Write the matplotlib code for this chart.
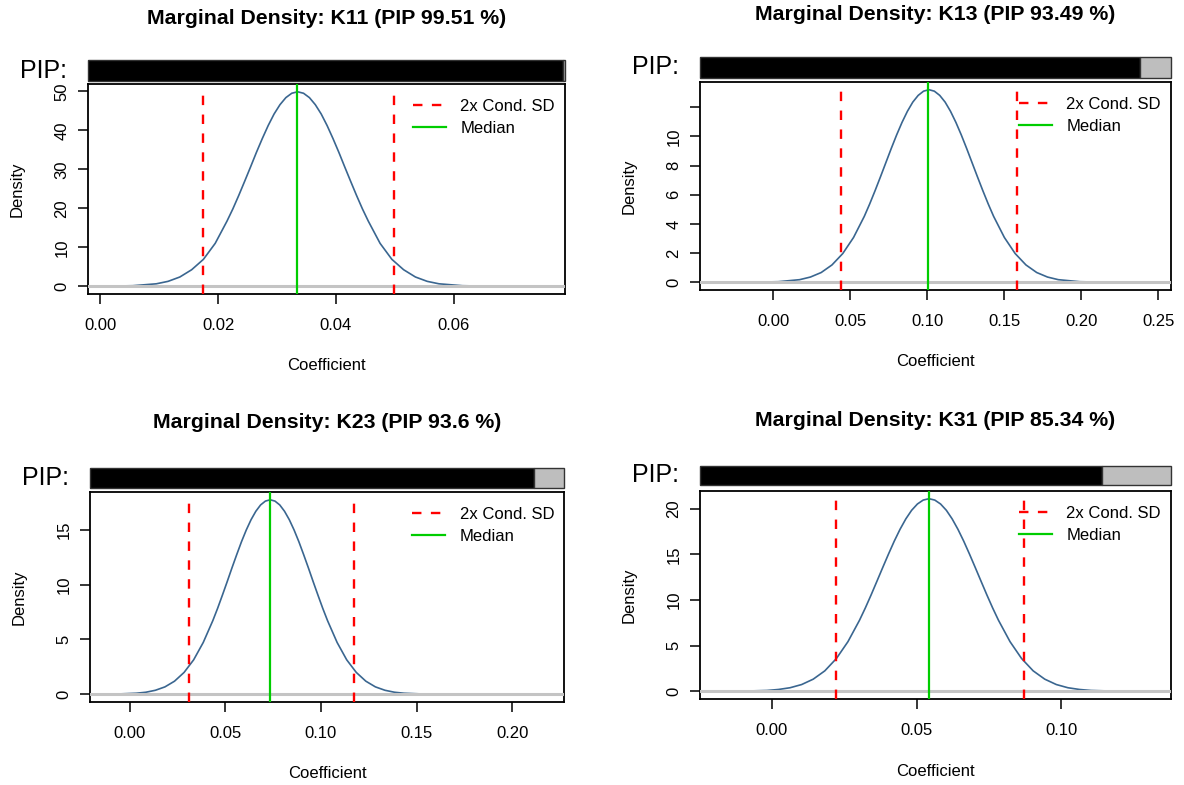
import matplotlib
matplotlib.use("Agg")
import matplotlib.pyplot as plt
from matplotlib.lines import Line2D

plt.rcParams['font.family'] = ['Liberation Sans', 'DejaVu Sans']

# values
names = ["K11", "K13", "K23", "K31"]
pip_pct = [99.51, 93.49, 93.6, 85.34]
medians = [0.0334, 0.1005, 0.0733, 0.0542]
sd2_lower = [0.0175, 0.0436, 0.0313, 0.0220]
sd2_upper = [0.0498, 0.1582, 0.1171, 0.0871]

k11_x = [0.0009, 0.0015, 0.0055, 0.0095, 0.0115, 0.0135, 0.0155, 0.0175, 0.0195,
         0.0215, 0.0225, 0.0235, 0.0245, 0.0255, 0.0265, 0.0275, 0.0285, 0.0295,
         0.0305, 0.0315, 0.0325, 0.0335, 0.0345, 0.0355, 0.0365, 0.0375, 0.0385,
         0.0395, 0.0405, 0.0415, 0.0425, 0.0435, 0.0445, 0.0455,
         0.0475, 0.0495, 0.0515, 0.0535, 0.0555, 0.0575, 0.0615, 0.0655, 0.0759]
k11_dens = [0, 0.02, 0.13, 0.62, 1.25, 2.37, 4.23, 6.9, 11.0,
            16.7, 19.85, 23.3, 26.92, 30.6, 34.35, 37.9, 41.24, 44.2,
            46.59, 48.4, 49.52, 49.9, 49.52, 48.4, 46.59, 44.2, 41.24,
            37.9, 34.35, 30.6, 26.92, 23.3, 19.85, 16.7,
            11.0, 6.9, 4.23, 2.37, 1.25, 0.62, 0.13, 0.02, 0]

k13_x = [-0.0364, -0.011, 0.003, 0.017, 0.024, 0.031, 0.038, 0.045, 0.052,
         0.059, 0.0625, 0.066, 0.0695, 0.073, 0.0765, 0.080, 0.0835, 0.087,
         0.0905, 0.094, 0.0975, 0.101, 0.1045, 0.108, 0.1115, 0.115, 0.1185,
         0.122, 0.1255, 0.129, 0.1325, 0.136, 0.1395, 0.143,
         0.150, 0.157, 0.164, 0.171, 0.178, 0.185, 0.199, 0.213, 0.2469]
k13_dens = [0, 0.01, 0.04, 0.18, 0.36, 0.67, 1.19, 1.97, 3.07,
            4.52, 5.37, 6.28, 7.23, 8.20, 9.17, 10.10, 10.96, 11.72,
            12.35, 12.81, 13.10, 13.2, 13.10, 12.81, 12.35, 11.72, 10.96,
            10.10, 9.17, 8.20, 7.23, 6.28, 5.37, 4.52,
            3.07, 1.97, 1.19, 0.67, 0.36, 0.18, 0.04, 0.01, 0]

k23_x = [-0.0115, -0.0065, 0.0035, 0.0085, 0.0135, 0.0185, 0.0235, 0.0285, 0.0335,
         0.0385, 0.0435, 0.046, 0.0485, 0.051, 0.0535, 0.056, 0.0585, 0.061,
         0.0635, 0.066, 0.0685, 0.071, 0.0735, 0.076, 0.0785, 0.081, 0.0835,
         0.086, 0.0885, 0.091, 0.0935, 0.096, 0.0985, 0.101, 0.1035,
         0.1085, 0.1135, 0.1185, 0.1235, 0.1285, 0.1335, 0.1385, 0.1435, 0.1535,
         0.1635, 0.2179]
k23_dens = [0, 0.02, 0.09, 0.18, 0.36, 0.67, 1.19, 1.99, 3.14,
            4.72, 6.71, 7.83, 9.03, 10.26, 11.52, 12.74, 13.92, 14.99,
            15.93, 16.70, 17.28, 17.63, 17.75, 17.63, 17.28, 16.70, 15.93,
            14.99, 13.92, 12.74, 11.52, 10.26, 9.03, 7.83, 6.71,
            4.72, 3.14, 1.99, 1.19, 0.67, 0.36, 0.18, 0.09, 0.02,
            0.003, 0]

k31_x = [-0.0188, -0.0177, -0.0097, -0.0017, 0.0023, 0.0063, 0.0103, 0.0143, 0.0183,
         0.0223, 0.0263, 0.0303, 0.0323, 0.0343, 0.0363, 0.0383, 0.0403, 0.0423,
         0.0443, 0.0463, 0.0483, 0.0503, 0.0523, 0.0543, 0.0563, 0.0583, 0.0603,
         0.0623, 0.0643, 0.0663, 0.0683, 0.0703, 0.0723, 0.0743, 0.0763, 0.0783,
         0.0823, 0.0863, 0.0903, 0.0943, 0.0983, 0.1023, 0.1063, 0.1103, 0.1183,
         0.1263, 0.1319]
k31_dens = [0, 0.003, 0.02, 0.09, 0.20, 0.39, 0.74, 1.33, 2.24,
            3.59, 5.44, 7.79, 9.13, 10.56, 12.05, 13.55, 15.03, 16.45,
            17.75, 18.89, 19.83, 20.52, 20.95, 21.1, 20.95, 20.52, 19.83,
            18.89, 17.75, 16.45, 15.03, 13.55, 12.05, 10.56, 9.13, 7.79,
            5.44, 3.59, 2.24, 1.33, 0.74, 0.39, 0.20, 0.09, 0.02,
            0.003, 0]

curves_x = [k11_x, k13_x, k23_x, k31_x]
curves_y = [k11_dens, k13_dens, k23_dens, k31_dens]

x_ticks = [[0.00, 0.02, 0.04, 0.06],
           [0.00, 0.05, 0.10, 0.15, 0.20, 0.25],
           [0.00, 0.05, 0.10, 0.15, 0.20],
           [0.00, 0.05, 0.10]]
y_ticks = [[0, 10, 20, 30, 40, 50],
           [0, 2, 4, 6, 8, 10, 12],
           [0, 5, 10, 15],
           [0, 5, 10, 15, 20]]
y_ticklabels = [["0", "10", "20", "30", "40", "50"],
                ["0", "2", "4", "6", "8", "10", ""],
                ["0", "5", "10", "15"],
                ["0", "5", "10", "15", "20"]]

# layout in pixels: (left, top, right, bottom) of each plot box
W, H = 1184, 785
boxes = [(88, 84, 565, 294), (700, 82, 1171, 290),
         (90, 492, 564, 702), (700, 491, 1171, 699)]
bars = [(60, 81), (57, 78), (468, 488), (466, 485)]
title_y = [17, 13, 422, 420]


def fx(px):
    return px / W


def fy(py):
    return 1 - py / H


fig = plt.figure(figsize=(W / 100, H / 100), dpi=100)

for i in range(4):
    l, t, r, b = boxes[i]
    ax = fig.add_axes([fx(l), fy(b), fx(r) - fx(l), fy(t) - fy(b)])

    xs, ys = curves_x[i], curves_y[i]
    span = xs[-1] - xs[0]
    ax.set_xlim(xs[0] - 0.04 * span, xs[-1] + 0.04 * span)
    peak = max(ys)
    y0 = -0.04 * peak
    ax.set_ylim(y0, 1.04 * peak)

    ax.plot(xs, ys, color='#3A6690', lw=1.2, zorder=2)
    ax.axhline(0, color='#C4C4C4', lw=2.2, zorder=3)
    for xv in (sd2_lower[i], sd2_upper[i]):
        ax.plot([xv, xv], [y0, peak], color='red', lw=1.7,
                ls=(0, (4, 4)), zorder=4, solid_capstyle='butt')
    ax.axvline(medians[i], color='#00CD00', lw=1.6, zorder=5)

    ax.set_xticks(x_ticks[i])
    ax.set_xticklabels(["%.2f" % v for v in x_ticks[i]])
    ax.set_yticks(y_ticks[i])
    ax.set_yticklabels(y_ticklabels[i], rotation=90, va='center')
    ax.tick_params(direction='out', length=7.5, width=1.1, labelsize=12)
    ax.tick_params(axis='x', pad=10)
    ax.tick_params(axis='y', pad=6)
    for sp in ax.spines.values():
        sp.set_linewidth(1.3)

    handles = [Line2D([], [], color='red', lw=1.7, ls=(0, (4, 4))),
               Line2D([], [], color='#00CD00', lw=1.6)]
    ax.legend(handles, ["2x Cond. SD", "Median"], loc='upper left',
              bbox_to_anchor=(fx(r - 152), fy(t + 15)),
              bbox_transform=fig.transFigure, frameon=False, fontsize=12,
              borderpad=0, borderaxespad=0, handlelength=1.95,
              handletextpad=0.9, labelspacing=0.42)

    # PIP bar
    bt, bb = bars[i]
    bax = fig.add_axes([fx(l), fy(bb), fx(r) - fx(l), fy(bt) - fy(bb)])
    p = pip_pct[i] / 100
    bax.barh([0], [p], height=1, color='black', edgecolor='#333333', lw=1,
             clip_on=False)
    bax.barh([0], [1 - p], left=p, height=1, color='#BEBEBE',
             edgecolor='#333333', lw=1, clip_on=False)
    bax.set_xlim(0, 1)
    bax.set_ylim(-0.5, 0.5)
    bax.axis('off')

    fig.text(fx(l - 21), fy((bt + bb) / 2), "PIP:", ha='right', va='center',
             fontsize=18)
    fig.text(fx((l + r) / 2), fy(title_y[i] + 1),
             "Marginal Density: %s (PIP %s %%)" % (names[i], pip_pct[i]),
             ha='center', va='center', fontsize=15.3, fontweight='bold')
    fig.text(fx((l + r) / 2), fy(b + 72), "Coefficient", ha='center',
             va='center', fontsize=12)
    fig.text(fx(l - 71), fy((t + b) / 2), "Density", ha='center',
             va='center', rotation=90, fontsize=12)

fig.savefig("out.png", dpi=100)
